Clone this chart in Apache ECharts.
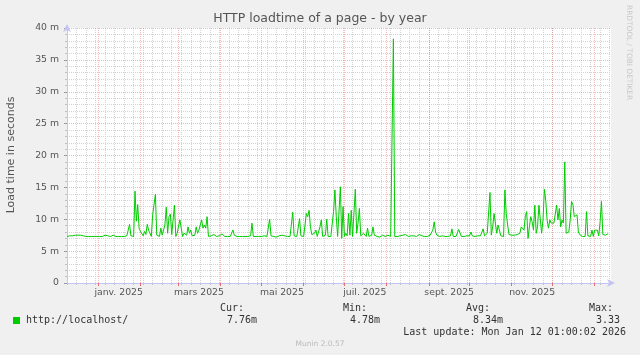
<!DOCTYPE html>
<html><head><meta charset="utf-8">
<script src="https://cdn.jsdelivr.net/npm/echarts@6/dist/echarts.min.js"></script>
<style>html,body{margin:0;padding:0;background:#f0f0f0}#c{width:640px;height:355px}</style>
</head><body><div id="c"></div>
<script>
// ---- data ----
const startDate = [2024, 11, 9];   // 9 Dec 2024, one value per day
const dayCount = 401;
const loadTime = [
7.3,7.4,7.4,7.3,7.4,7.4,7.5,7.4,7.5,7.6,
7.5,7.4,7.4,7.3,7.3,7.3,7.3,7.3,7.3,7.3,
7.3,7.3,7.3,7.3,7.3,7.3,7.3,7.4,7.5,7.4,
7.4,7.4,7.3,7.4,7.5,7.4,7.3,7.3,7.3,7.3,
7.3,7.3,7.3,7.3,7.4,7.3,9.2,7.4,7.3,7.3,
14.4,9.7,12.3,8.6,8.1,7.8,7.4,8.1,7.6,9.2,
8.3,8.3,7.3,10.7,10.7,13.9,7.5,7.5,7.3,8.6,
7.5,7.6,9.1,11.9,7.8,10.4,10.8,7.6,7.5,12.2,
7.3,7.8,7.8,9.9,10.1,7.3,7.8,7.6,7.5,8.8,
7.8,8.3,7.4,7.3,7.5,8.8,7.8,8.3,8.3,9.9,
8.6,9.1,8.6,10.4,7.3,7.3,7.4,7.5,7.6,7.4,
7.3,7.3,7.4,7.6,7.7,7.4,7.3,7.3,7.3,7.3,
7.3,7.4,8.3,7.5,7.3,7.3,7.3,7.3,7.3,7.3,
7.3,7.3,7.3,7.3,7.3,7.4,9.4,7.3,7.3,7.3,
7.3,7.3,7.3,7.3,7.3,7.4,7.3,7.3,7.3,10.0,
7.4,7.3,7.3,7.2,7.2,7.3,7.4,7.6,7.5,7.3,
7.4,7.4,7.3,7.3,7.3,7.5,11.1,7.4,7.3,7.3,
7.3,10.1,7.4,7.3,7.3,7.5,10.9,10.4,11.4,8.8,
7.6,7.3,7.8,8.3,7.3,7.4,8.8,9.9,7.3,7.3,
7.5,10.0,7.3,7.3,7.3,7.3,11.2,14.6,10.4,7.3,
7.3,15.1,7.0,12.0,7.3,7.8,7.4,10.9,7.5,11.4,
7.3,7.3,14.7,7.8,9.4,11.7,7.4,7.3,7.8,7.5,
7.3,8.6,7.3,7.5,7.5,8.8,7.5,7.3,7.3,7.3,
7.2,7.3,7.5,7.3,7.3,7.3,7.5,7.5,7.3,7.5,
38.3,7.3,7.3,7.3,7.3,7.4,7.4,7.5,7.4,7.6,
7.4,7.3,7.5,7.4,7.3,7.4,7.5,7.3,7.4,7.6,
7.9,7.4,7.3,7.3,7.2,7.3,7.4,7.5,7.6,8.3,
9.6,8.0,7.5,7.3,7.3,7.3,7.4,7.3,7.3,7.4,
7.3,7.3,7.4,8.5,7.3,7.3,7.3,7.4,8.4,8.5,
7.3,7.3,7.3,7.4,7.4,7.3,7.4,8.0,7.4,7.3,
7.3,7.3,7.4,7.3,7.4,7.5,8.5,7.4,7.3,7.8,
7.5,14.2,7.5,8.8,10.9,10.9,7.8,9.1,8.8,7.4,
7.3,7.3,14.6,10.9,9.1,7.6,7.5,7.5,7.8,7.5,
7.5,7.6,7.5,7.8,8.8,9.1,8.3,10.4,11.2,7.0,
8.8,10.4,9.6,8.3,12.2,7.8,8.8,12.2,12.5,7.8,
9.9,14.7,13.0,9.9,8.6,9.9,9.4,9.7,9.4,9.6,
12.2,9.9,11.7,8.8,9.9,9.4,19.0,7.8,7.6,8.0,
9.9,12.8,12.3,10.4,10.1,10.7,8.0,7.6,7.3,7.3,
7.3,7.3,11.2,7.4,7.3,7.3,8.3,7.3,8.3,8.3,
8.3,7.4,9.6,12.8,7.6,7.5,7.5,7.6,7.76,null,
null
];
const labelMonths = ['2025-01-01','2025-03-01','2025-05-01','2025-07-01','2025-09-01','2025-11-01'];
const monthLabels = ['janv. 2025','mars 2025','mai 2025','juil. 2025','sept. 2025','nov. 2025'];
const yTickLabels = ['0','5 m','10 m','15 m','20 m','25 m','30 m','35 m','40 m'];
const seriesName = 'http://localhost/';
const legendHeads = ['Cur:','Min:','Avg:','Max:'];
const legendValues = ['7.76m','4.78m','8.34m','3.33'];
const chartTitle = 'HTTP loadtime of a page - by year';
const yName = 'Load time in seconds';
const lastUpdate = 'Last update: Mon Jan 12 01:00:02 2026';
const credit = 'RRDTOOL / TOBI OETIKER';
const footer = 'Munin 2.0.57';

// ---- build ----
const fmt = d => d.toISOString().slice(0, 10);
const days = [];
for (let i = 0; i < dayCount; i++) days.push(fmt(new Date(Date.UTC(startDate[0], startDate[1], startDate[2] + i))));
const labelAt = {};
labelMonths.forEach((m, k) => {
  const d = new Date(m + 'T00:00:00Z'); d.setUTCDate(d.getUTCDate() + 15);
  labelAt[fmt(d)] = monthLabels[k];
});
const isMonthStart = v => v.slice(8) === '01';
const isMonday = v => new Date(v + 'T00:00:00Z').getUTCDay() === 1;

const SANS = 'DejaVu Sans', MONO = 'DejaVu Sans Mono';
const axisBlue = '#c4c4f4';
const redGrid = 'rgba(230,90,90,0.42)';
const grayGrid = '#d4d4d4';

const chart = echarts.init(document.getElementById('c'), null, {renderer: 'canvas'});
const colX = [244, 367, 490, 613], valX = [257, 380, 503, 620];
const graphic = [
  {type: 'text', x: 320, y: 19, style: {text: chartTitle, font: '12.5px "' + SANS + '"', fill: '#555', align: 'center', verticalAlign: 'middle'}},
  {type: 'text', x: 11, y: 155, rotation: Math.PI / 2, style: {text: yName, font: '11px "' + SANS + '"', fill: '#555', align: 'center', verticalAlign: 'middle'}},
  {type: 'text', x: 629, y: 5, rotation: -Math.PI / 2, style: {text: credit, font: '7.4px "' + SANS + '"', fill: '#c8c8c8', align: 'left', verticalAlign: 'middle'}},
  {type: 'rect', shape: {x: 13, y: 317, width: 7, height: 7}, style: {fill: '#00cc00'}},
  {type: 'text', x: 26, y: 320.5, style: {text: seriesName, font: '10px "' + MONO + '"', fill: '#333', align: 'left', verticalAlign: 'middle'}},
  {type: 'text', x: 626, y: 332, style: {text: lastUpdate, font: '10px "' + MONO + '"', fill: '#333', align: 'right', verticalAlign: 'middle'}},
  {type: 'text', x: 320, y: 344, style: {text: footer, font: '7.5px "' + SANS + '"', fill: '#bbb', align: 'center', verticalAlign: 'middle'}}
];
legendHeads.forEach((h, k) => graphic.push({type: 'text', x: colX[k], y: 308.5, style: {text: h, font: '10px "' + MONO + '"', fill: '#333', align: 'right', verticalAlign: 'middle'}}));
legendValues.forEach((h, k) => graphic.push({type: 'text', x: valX[k], y: 320.5, style: {text: h, font: '10px "' + MONO + '"', fill: '#333', align: 'right', verticalAlign: 'middle'}}));

chart.setOption({
  animation: false,
  backgroundColor: '#f0f0f0',
  grid: {left: 67, top: 28, right: 29, bottom: 72, show: true, backgroundColor: '#ffffff', borderWidth: 0},
  xAxis: [
    {
      type: 'category', data: days, boundaryGap: false, position: 'bottom', z: 3,
      axisLine: {show: true, lineStyle: {color: axisBlue, width: 1}, symbol: ['none', 'arrow'], symbolSize: [6, 8], symbolOffset: [0, 4]},
      axisTick: {show: true, interval: (i, v) => isMonthStart(v), length: 3, lineStyle: {color: '#e07070'}},
      axisLabel: {show: true, interval: (i, v) => labelAt[v] !== undefined, formatter: v => labelAt[v] || '', color: '#555', fontSize: 9.3, fontFamily: SANS, margin: 5},
      splitLine: {show: true, interval: (i, v) => isMonthStart(v), lineStyle: {color: redGrid, width: 1, type: [1, 1]}}
    },
    {
      type: 'category', data: days, boundaryGap: false, position: 'bottom', z: 1,
      axisLine: {show: false}, axisLabel: {show: false},
      axisTick: {show: true, interval: (i, v) => isMonday(v), length: 2, lineStyle: {color: '#c0c0c0'}},
      splitLine: {show: true, interval: (i, v) => isMonday(v), lineStyle: {color: grayGrid, width: 1, type: [1, 1]}}
    }
  ],
  yAxis: {
    type: 'value', min: 0, max: 40, interval: 5, z: 3,
    axisLine: {show: true, lineStyle: {color: axisBlue, width: 1}, symbol: ['none', 'arrow'], symbolSize: [6, 8], symbolOffset: [0, 4]},
    axisTick: {show: true, length: 3, lineStyle: {color: '#999'}},
    minorTick: {show: true, splitNumber: 5, length: 2, lineStyle: {color: '#c0c0c0'}},
    axisLabel: {formatter: v => yTickLabels[Math.round(v / 5)], color: '#555', fontSize: 9.3, fontFamily: SANS, margin: 8},
    splitLine: {show: true, lineStyle: {color: redGrid, width: 1, type: [1, 1]}},
    minorSplitLine: {show: true, lineStyle: {color: grayGrid, width: 1, type: [1, 1]}}
  },
  series: [{
    name: seriesName, type: 'line', data: loadTime, xAxisIndex: 0, showSymbol: false, connectNulls: false, z: 5,
    lineStyle: {color: '#00cc00', width: 1}, itemStyle: {color: '#00cc00'}
  }],
  graphic: graphic
});
</script></body></html>
